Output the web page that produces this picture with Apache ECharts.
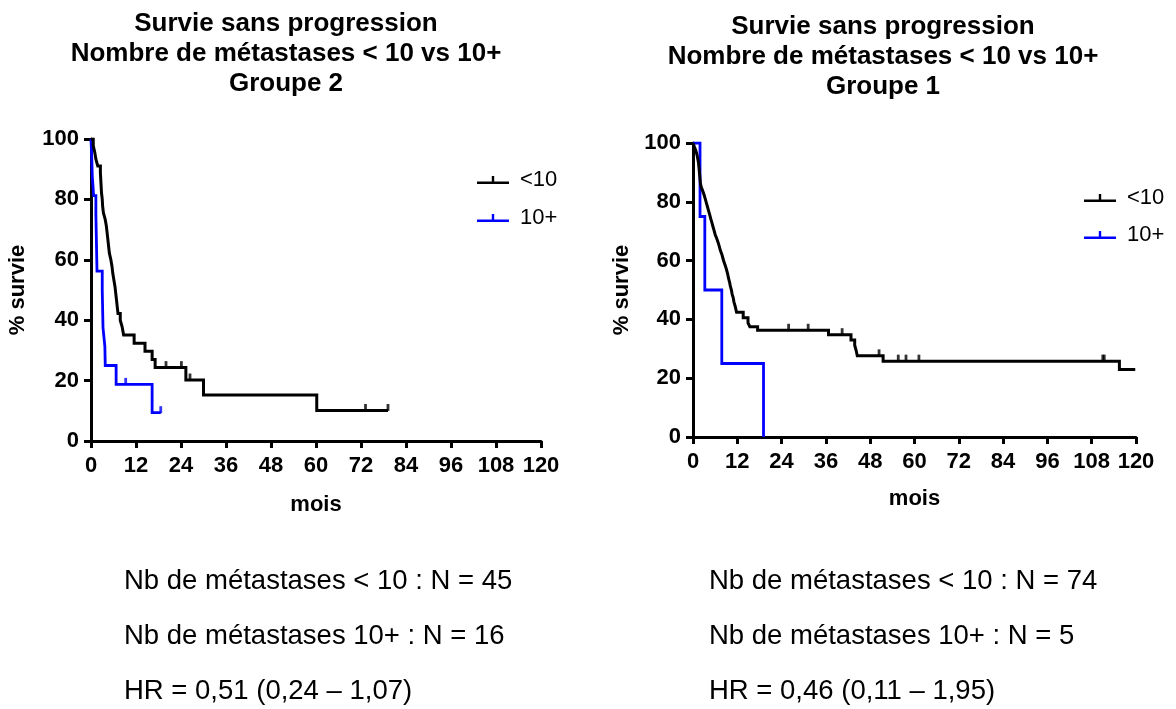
<!DOCTYPE html>
<html>
<head>
<meta charset="utf-8">
<script src="https://cdn.jsdelivr.net/npm/echarts@6/dist/echarts.min.js"></script>
<style>
  html, body { margin: 0; padding: 0; background: #ffffff; }
  #chart { width: 1176px; height: 709px; }
</style>
</head>
<body>
<div id="chart"></div>
<script>
// Kaplan-Meier curves: [mois, % survie] at each event time (step drawn after each point)
// Groupe 2
const g2Under10 = [
  [0, 100], [0.6, 97.8], [1.0, 95.6], [1.3, 93.3], [1.8, 91.1], [2.5, 88.9], [2.6, 86.7],
  [2.7, 84.4], [2.8, 82.2], [3.0, 80.0], [3.1, 77.8], [3.3, 75.6], [3.8, 73.3], [4.1, 71.1],
  [4.3, 68.9], [4.5, 66.7], [4.7, 64.4], [4.9, 62.2], [5.3, 60.0], [5.6, 57.8], [5.8, 55.6],
  [6.1, 53.3], [6.4, 51.1], [6.6, 48.9], [6.8, 46.7], [7.0, 44.4], [7.2, 42.2], [7.8, 40.0],
  [8.3, 37.8], [8.7, 35.1], [11.5, 32.4], [14.4, 29.7], [16.3, 27.0], [17.1, 24.3],
  [25.3, 20.2], [30.0, 15.2], [60.2, 10.1], [79.2, 10.1]
];
const g2Under10Censored = [20.0, 24.1, 26.4, 73.2, 79.2];
const g2Over10 = [
  [0, 100], [0.2, 93.75], [0.35, 87.5], [0.7, 81.25], [1.3, 75], [1.4, 68.75], [1.5, 62.5],
  [1.6, 56.25], [3.0, 50], [3.1, 43.75], [3.2, 37.5], [3.7, 31.25], [3.8, 25],
  [6.7, 18.75], [16.3, 9.375], [18.6, 9.375]
];
const g2Over10Censored = [9.25, 18.6];

// Groupe 1
const g1Under10 = [
  [0, 100], [0.4, 98.6], [0.8, 97.3], [1.1, 95.9], [1.3, 94.6], [1.5, 93.2], [1.6, 91.9],
  [1.7, 90.5], [1.8, 89.2], [1.9, 87.8], [2.0, 86.5], [2.2, 85.1], [2.6, 83.8], [3.0, 82.4],
  [3.3, 81.1], [3.6, 79.7], [3.9, 78.4], [4.2, 77.0], [4.5, 75.7], [4.8, 74.3], [5.1, 73.0],
  [5.4, 71.6], [5.7, 70.3], [6.0, 68.9], [6.4, 67.6], [6.8, 66.2], [7.1, 64.9], [7.4, 63.5],
  [7.8, 62.2], [8.1, 60.8], [8.4, 59.5], [8.8, 58.1], [9.1, 56.8], [9.4, 55.4], [9.6, 54.1],
  [9.9, 52.7], [10.1, 51.4], [10.4, 50.0], [10.6, 48.6], [10.9, 47.3], [11.1, 45.9],
  [11.4, 44.6], [11.8, 42.4], [13.6, 40.6], [14.9, 38.8], [15.4, 37.5], [17.5, 36.3],
  [36.7, 34.8], [42.8, 33.0], [43.8, 31.2], [44.2, 29.4], [44.5, 27.6], [51.5, 25.8],
  [115.5, 23.0], [119.8, 23.0]
];
const g1Under10Censored = [25.9, 31.2, 40.4, 50.4, 55.6, 57.7, 61.2, 111.0, 111.4];
const g1Over10 = [
  [0, 100], [1.9, 75], [3.2, 50], [7.8, 25], [19.1, 0]
];
const g1Over10Censored = [];

const seriesNames = ['<10', '10+'];
const titles = [
  'Survie sans progression\nNombre de métastases < 10 vs 10+\nGroupe 2',
  'Survie sans progression\nNombre de métastases < 10 vs 10+\nGroupe 1'
];
const notesGroupe2 = ['Nb de métastases < 10 : N = 45', 'Nb de métastases 10+ : N = 16', 'HR = 0,51 (0,24 – 1,07)'];
const notesGroupe1 = ['Nb de métastases < 10 : N = 74', 'Nb de métastases 10+ : N = 5', 'HR = 0,46 (0,11 – 1,95)'];

const FONT = '"Liberation Sans", Arial, Helvetica, sans-serif';
const BLACK = '#000000';
const BLUE = '#0000ff';

// survival value in effect at time t (right-continuous step)
function survivalAt(curve, t) {
  let s = curve[0][1];
  for (const [time, value] of curve) {
    if (time <= t) s = value; else break;
  }
  return s;
}

function xAxisFor(gridIndex, nameGap) {
  return {
    gridIndex, type: 'value', min: 0, max: 120, interval: 12,
    axisLine: { show: true, onZero: false, lineStyle: { color: BLACK, width: 3 } },
    axisTick: { show: true, length: 7, lineStyle: { color: BLACK, width: 3 } },
    axisLabel: { color: BLACK, fontSize: 22, fontWeight: 'bold', fontFamily: FONT, margin: 14 },
    splitLine: { show: false },
    name: 'mois', nameLocation: 'middle', nameGap,
    nameTextStyle: { color: BLACK, fontSize: 22, fontWeight: 'bold', fontFamily: FONT }
  };
}
function yAxisFor(gridIndex, gap) {
  return {
    gridIndex, type: 'value', min: 0, max: 100, interval: 20,
    axisLine: { show: true, onZero: false, lineStyle: { color: BLACK, width: 3 } },
    axisTick: { show: true, length: 7, lineStyle: { color: BLACK, width: 3 } },
    axisLabel: { color: BLACK, fontSize: 22, fontWeight: 'bold', fontFamily: FONT, margin: 12 },
    splitLine: { show: false },
    name: '% survie', nameLocation: 'middle', nameGap: gap,
    nameTextStyle: { color: BLACK, fontSize: 22, fontWeight: 'bold', fontFamily: FONT }
  };
}

function curveSeries(name, data, color, width, idx) {
  return {
    name, type: 'line', step: 'end', data, xAxisIndex: idx, yAxisIndex: idx,
    showSymbol: false, symbol: 'none',
    lineStyle: { color, width, join: 'miter', cap: 'butt' },
    itemStyle: { color }, emphasis: { disabled: true }
  };
}
function censorSeries(name, curve, times, color, idx) {
  return {
    name, type: 'scatter', xAxisIndex: idx, yAxisIndex: idx,
    data: times.map(t => [t, survivalAt(curve, t)]),
    symbol: 'rect', symbolSize: [2.8, 7], symbolOffset: [0, -3],
    itemStyle: { color }, silent: true, z: 3
  };
}

const legendIcon = 'path://M0,5.5 L32,5.5 L32,8 L0,8 Z M14.8,0 L17.2,0 L17.2,6 L14.8,6 Z';
function legendAt(left, top, gap) {
  return {
    data: seriesNames, orient: 'vertical', left, top,
    icon: legendIcon, itemWidth: 32, itemHeight: 8, itemGap: gap,
    textStyle: { color: BLACK, fontSize: 22, fontFamily: FONT, padding: [5, 0, 0, 6] },
    selectedMode: false
  };
}

function titleText(x, y, text) {
  return {
    type: 'text', x, y, silent: true,
    style: {
      text, align: 'center', verticalAlign: 'top', fill: BLACK,
      fontSize: 26, fontWeight: 'bold', fontFamily: FONT, lineHeight: 30
    }
  };
}
function noteTexts(x, lines) {
  const ys = [581, 636, 691];
  return lines.map((text, i) => ({
    type: 'text', x, y: ys[i], silent: true,
    style: { text, align: 'left', verticalAlign: 'middle', fill: BLACK, fontSize: 27.5, fontFamily: FONT }
  }));
}

const chart = echarts.init(document.getElementById('chart'), null, { renderer: 'canvas' });
chart.setOption({
  animation: false,
  backgroundColor: '#ffffff',
  grid: [
    { left: 91, top: 139, width: 450, height: 302 },
    { left: 693, top: 143, width: 443, height: 294 }
  ],
  xAxis: [xAxisFor(0, 53), xAxisFor(1, 51)],
  yAxis: [yAxisFor(0, 62), yAxisFor(1, 60)],
  legend: [legendAt(472, 164, 16), legendAt(1079, 182, 15)],
  series: [
    curveSeries(seriesNames[1], g2Over10, BLUE, 2.8, 0),
    curveSeries(seriesNames[0], g2Under10, BLACK, 3, 0),
    censorSeries('g2-10+-censure', g2Over10, g2Over10Censored, BLUE, 0),
    censorSeries('g2-<10-censure', g2Under10, g2Under10Censored, BLACK, 0),
    curveSeries(seriesNames[1], g1Over10, BLUE, 2.8, 1),
    curveSeries(seriesNames[0], g1Under10, BLACK, 3, 1),
    censorSeries('g1-10+-censure', g1Over10, g1Over10Censored, BLUE, 1),
    censorSeries('g1-<10-censure', g1Under10, g1Under10Censored, BLACK, 1)
  ],
  graphic: [
    titleText(286, 9, titles[0]),
    titleText(883, 12, titles[1]),
    ...noteTexts(124, notesGroupe2),
    ...noteTexts(709, notesGroupe1)
  ]
});
</script>
</body>
</html>
